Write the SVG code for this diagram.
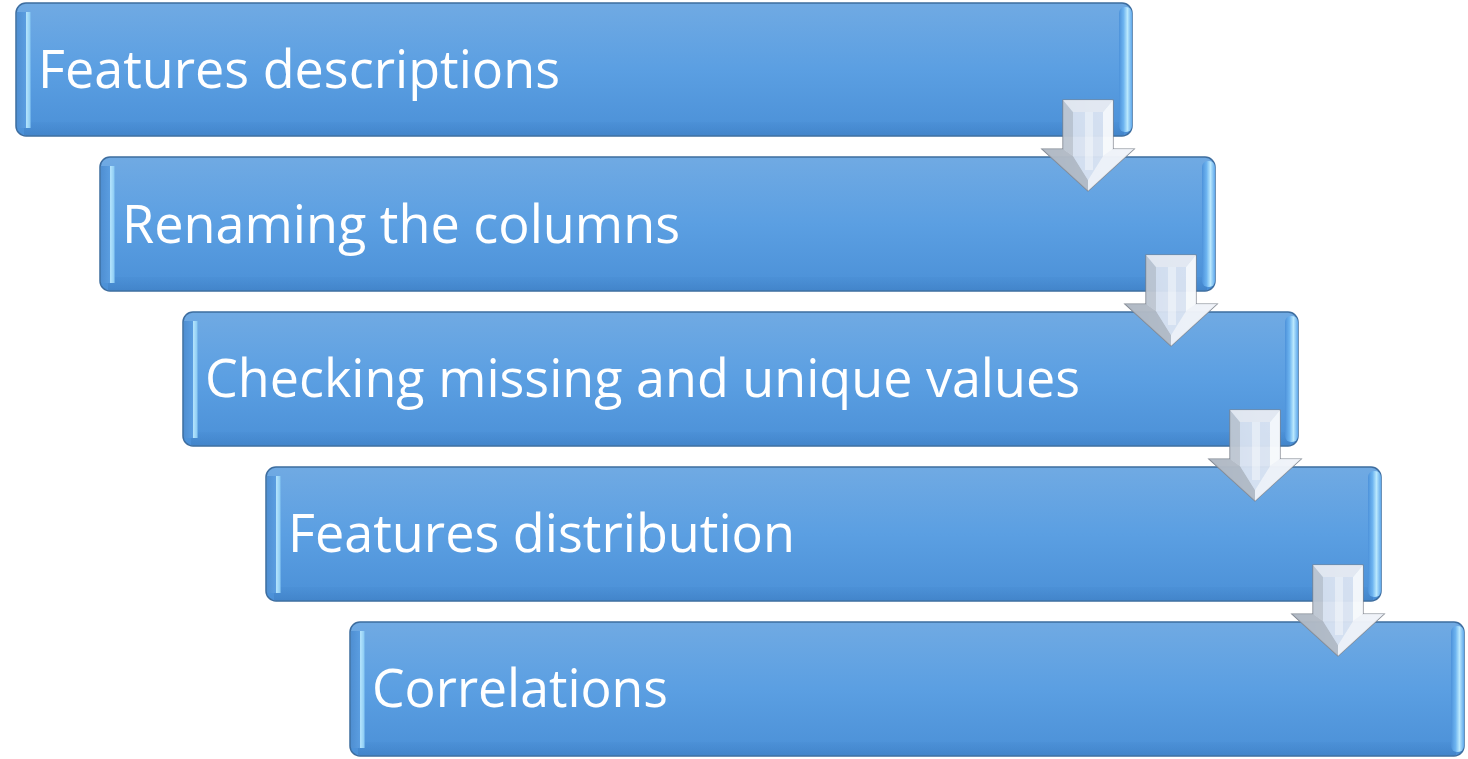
<svg xmlns="http://www.w3.org/2000/svg" xmlns:xlink="http://www.w3.org/1999/xlink" width="1468" height="759" viewBox="0 0 1468 759">
  <style>
    .box { fill: url(#boxFill); stroke: #3d6d9f; stroke-width: 1.5; }
    .bevel-l { fill: url(#bevelL); }
    .bevel-r { fill: url(#bevelR); }
    .bevel-b { fill: url(#bevelB); }
    .label { font-family: "Open Sans", "Noto Sans", "Liberation Sans", sans-serif; font-size: 53px; fill: #ffffff; }
  </style>
  <defs>
    <linearGradient id="boxFill" x1="0" y1="0" x2="0" y2="1">
      <stop offset="0" stop-color="#70aae3"/>
      <stop offset="0.5" stop-color="#5b9fe2"/>
      <stop offset="1" stop-color="#4b90d7"/>
    </linearGradient>
    <linearGradient id="bevelL" x1="0" y1="0" x2="1" y2="0">
      <stop offset="0" stop-color="#4f8fd2"/>
      <stop offset="0.62" stop-color="#5a9de0"/>
      <stop offset="0.68" stop-color="#b2e3fc"/>
      <stop offset="0.95" stop-color="#8ccbf3"/>
      <stop offset="1" stop-color="#5b9fe2" stop-opacity="0"/>
    </linearGradient>
    <linearGradient id="bevelR" x1="0" y1="0" x2="1" y2="0">
      <stop offset="0" stop-color="#4d92da"/>
      <stop offset="0.35" stop-color="#6db4f0"/>
      <stop offset="0.65" stop-color="#b9e8fd"/>
      <stop offset="1" stop-color="#5fa8ec"/>
    </linearGradient>
    <linearGradient id="bevelB" x1="0" y1="0" x2="0" y2="1">
      <stop offset="0" stop-color="#3f82c8" stop-opacity="0.15"/>
      <stop offset="1" stop-color="#3c7cc0" stop-opacity="0.55"/>
    </linearGradient>
    <linearGradient id="arrowFill" x1="0" y1="0" x2="1" y2="0">
      <stop offset="0" stop-color="#c9d3e0"/>
      <stop offset="0.5" stop-color="#e9eef6"/>
      <stop offset="1" stop-color="#f4f7fb"/>
    </linearGradient>
    <!-- downward block arrow with bevelled facets, origin at top centre -->
    <g id="downArrow">
      <polygon points="-25,0 25,0 25,49 46,49 0,91 -46,49 -25,49" fill="url(#arrowFill)" fill-opacity="0.85" stroke="#7d838d" stroke-width="1.2"/>
      <polygon points="-25,0 -15,12 -15,56 -25,49" fill="#b4bdca" fill-opacity="0.75"/>
      <polygon points="-46,49 -25,49 -15,56 0,80 0,91" fill="#a9b1bd" fill-opacity="0.8"/>
      <polygon points="25,0 15,12 15,56 25,49" fill="#f7f9fc" fill-opacity="0.85"/>
      <polygon points="46,49 25,49 15,56 0,80 0,91" fill="#eef2f8" fill-opacity="0.85"/>
      <polygon points="-25,0 25,0 15,12 -15,12" fill="#e4e9f1" fill-opacity="0.85"/>
      <polygon points="-15,12 15,12 15,56 0,80 -15,56" fill="#d3def0" fill-opacity="0.7"/>
      <rect x="-3" y="12" width="8" height="58" fill="#ffffff" fill-opacity="0.4"/>
    </g>
  </defs>

  <rect width="1468" height="759" fill="#ffffff"/>

  <g id="step1">
    <rect class="box" x="16" y="3" width="1116" height="133" rx="10"/>
    <rect class="bevel-b" x="24" y="122" width="1100" height="13"/>
    <rect class="bevel-l" x="17" y="12" width="14" height="116"/>
    <rect class="bevel-r" x="1119" y="7" width="13" height="125" rx="6"/>
    <text class="label" x="38" y="88" textLength="522" lengthAdjust="spacingAndGlyphs">Features descriptions</text>
  </g>
  <g id="step2">
    <rect class="box" x="100" y="157" width="1115" height="134" rx="10"/>
    <rect class="bevel-b" x="108" y="277" width="1099" height="13"/>
    <rect class="bevel-l" x="101" y="166" width="14" height="117"/>
    <rect class="bevel-r" x="1202" y="161" width="13" height="126" rx="6"/>
    <text class="label" x="122" y="243" textLength="558" lengthAdjust="spacingAndGlyphs">Renaming the columns</text>
  </g>
  <g id="step3">
    <rect class="box" x="183" y="312" width="1115" height="134" rx="10"/>
    <rect class="bevel-b" x="191" y="432" width="1099" height="13"/>
    <rect class="bevel-l" x="184" y="321" width="14" height="117"/>
    <rect class="bevel-r" x="1285" y="316" width="13" height="126" rx="6"/>
    <text class="label" x="205" y="397" textLength="875" lengthAdjust="spacingAndGlyphs">Checking missing and unique values</text>
  </g>
  <g id="step4">
    <rect class="box" x="266" y="467" width="1115" height="134" rx="10"/>
    <rect class="bevel-b" x="274" y="587" width="1099" height="13"/>
    <rect class="bevel-l" x="267" y="476" width="14" height="117"/>
    <rect class="bevel-r" x="1368" y="471" width="13" height="126" rx="6"/>
    <text class="label" x="288" y="552" textLength="507" lengthAdjust="spacingAndGlyphs">Features distribution</text>
  </g>
  <g id="step5">
    <rect class="box" x="350" y="622" width="1114" height="134" rx="10"/>
    <rect class="bevel-b" x="358" y="742" width="1098" height="13"/>
    <rect class="bevel-l" x="351" y="631" width="14" height="117"/>
    <rect class="bevel-r" x="1451" y="626" width="13" height="126" rx="6"/>
    <text class="label" x="372" y="707" textLength="296" lengthAdjust="spacingAndGlyphs">Correlations</text>
  </g>

  <g id="connectors">
    <use xlink:href="#downArrow" transform="translate(1088,100)"/>
    <use xlink:href="#downArrow" transform="translate(1171,255)"/>
    <use xlink:href="#downArrow" transform="translate(1255,410)"/>
    <use xlink:href="#downArrow" transform="translate(1338,565)"/>
  </g>
</svg>
